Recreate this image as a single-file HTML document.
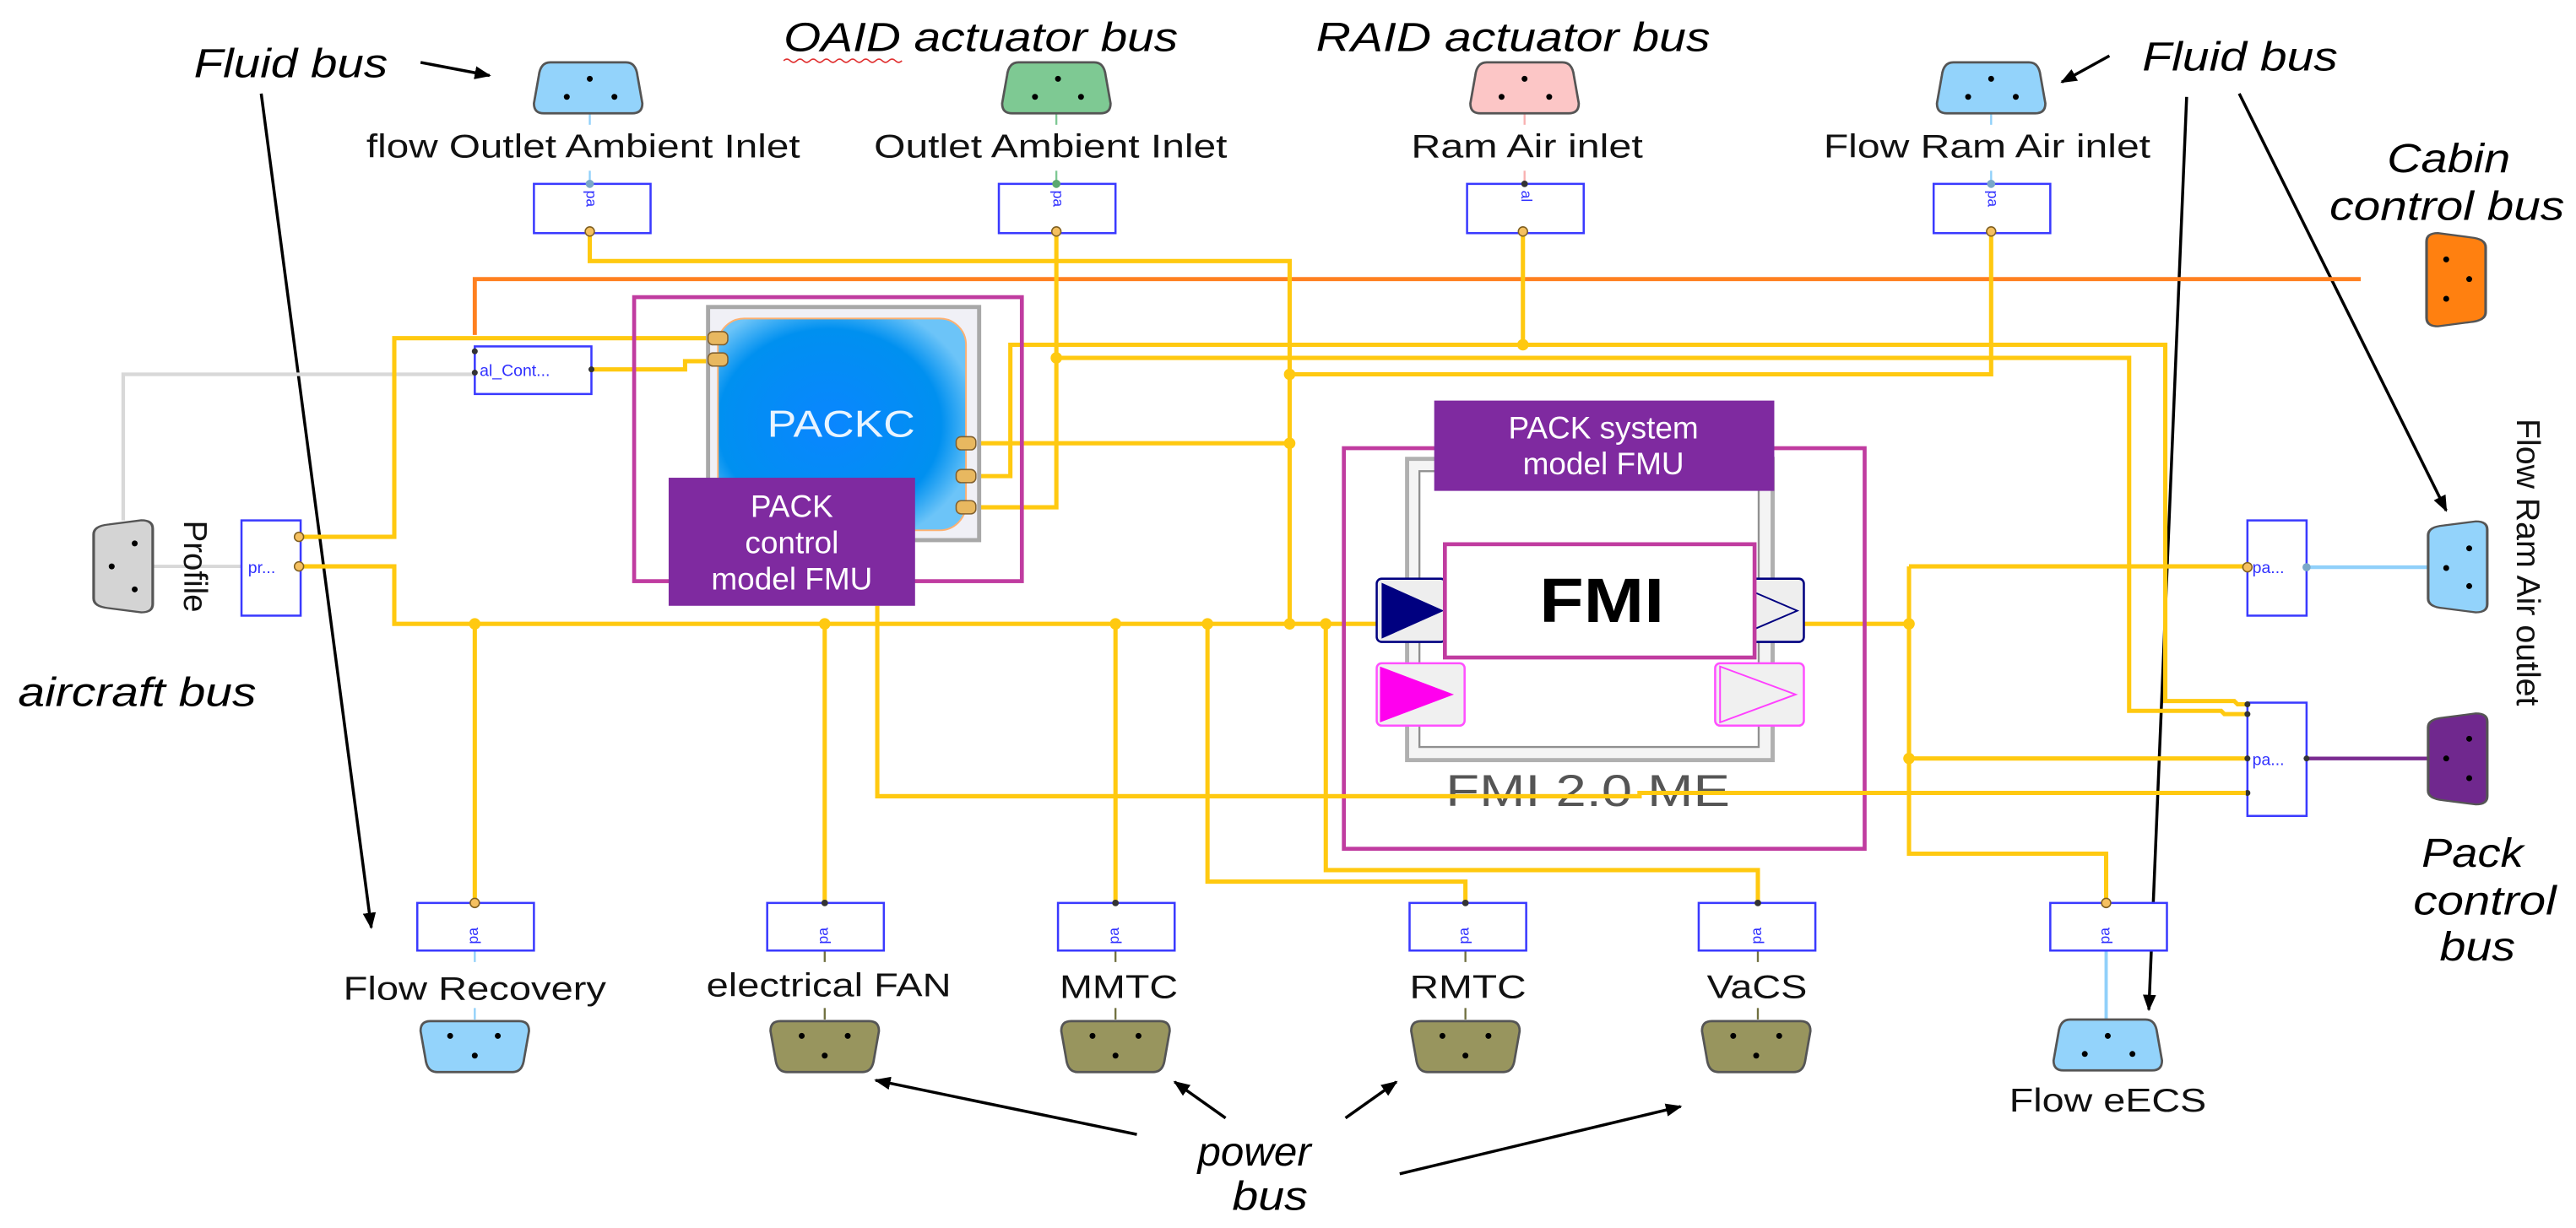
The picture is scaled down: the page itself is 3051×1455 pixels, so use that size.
<!DOCTYPE html>
<html><head><meta charset="utf-8"><style>
html,body{margin:0;padding:0;background:#fff;width:3051px;height:1455px;overflow:hidden}
svg{display:block}
text{font-family:"Liberation Sans",Arial,sans-serif}
.it{font-style:italic;font-size:25px;fill:#000}
.lb{font-size:20px;fill:#111}
.y{stroke:#ffc910;stroke-width:2.6;fill:none}
.bx{fill:#fff;stroke:#3a3aff;stroke-width:1.3}
.ar{stroke:#000;stroke-width:1.8;fill:none}
.po{fill:#f5c060;stroke:#806020;stroke-width:0.8}
.pd{fill:#333}
.sm{font-size:9px;fill:#3030ff}
</style></head><body>
<svg width="3051" height="1455" viewBox="0 0 1568 748" preserveAspectRatio="none" xmlns="http://www.w3.org/2000/svg">
<defs>
<marker id="ah" markerWidth="10" markerHeight="8" refX="9" refY="4" orient="auto" markerUnits="userSpaceOnUse"><path d="M0,0 L10,4 L0,8 Z" fill="#000"/></marker>
<radialGradient id="pk" cx="0.45" cy="0.5" r="0.6"><stop offset="0" stop-color="#0a86ff"/><stop offset="0.75" stop-color="#0090f0"/><stop offset="1" stop-color="#6cc4f8"/></radialGradient>
</defs>

<!-- annotations -->
<text class="it" x="118" y="47" textLength="118" lengthAdjust="spacingAndGlyphs">Fluid bus</text>
<line class="ar" x1="256" y1="38" x2="298" y2="46" marker-end="url(#ah)"/>
<line class="ar" x1="159" y1="57" x2="226" y2="565" marker-end="url(#ah)"/>
<text class="it" x="477" y="31" textLength="240" lengthAdjust="spacingAndGlyphs">OAID actuator bus</text>
<path d="M477,37 q2,-2 4,0 t4,0 t4,0 t4,0 t4,0 t4,0 t4,0 t4,0 t4,0 t4,0 t4,0 t4,0 t4,0 t4,0 t4,0 t4,0 t4,0 t4,0" stroke="#e03030" stroke-width="0.8" fill="none"/>
<text class="it" x="801" y="31" textLength="240" lengthAdjust="spacingAndGlyphs">RAID actuator bus</text>
<text class="it" x="1304" y="43" textLength="119" lengthAdjust="spacingAndGlyphs">Fluid bus</text>
<line class="ar" x1="1284" y1="34" x2="1255" y2="50" marker-end="url(#ah)"/>
<line class="ar" x1="1331" y1="59" x2="1308" y2="615" marker-end="url(#ah)"/>
<line class="ar" x1="1363" y1="57" x2="1489" y2="311" marker-end="url(#ah)"/>
<text class="it" x="1453" y="105" textLength="75" lengthAdjust="spacingAndGlyphs">Cabin</text>
<text class="it" x="1418" y="134" textLength="143" lengthAdjust="spacingAndGlyphs">control bus</text>
<text class="it" x="11" y="430" textLength="145" lengthAdjust="spacingAndGlyphs">aircraft bus</text>
<text class="it" x="729" y="710" textLength="69" lengthAdjust="spacingAndGlyphs">power</text>
<text class="it" x="750" y="737" textLength="46" lengthAdjust="spacingAndGlyphs">bus</text>
<text class="it" x="1474" y="528" textLength="62" lengthAdjust="spacingAndGlyphs">Pack</text>
<text class="it" x="1469" y="557" textLength="87" lengthAdjust="spacingAndGlyphs">control</text>
<text class="it" x="1485" y="585" textLength="46" lengthAdjust="spacingAndGlyphs">bus</text>
<line class="ar" x1="692" y1="691" x2="533" y2="658" marker-end="url(#ah)"/>
<line class="ar" x1="746" y1="681" x2="715" y2="659" marker-end="url(#ah)"/>
<line class="ar" x1="819" y1="681" x2="850" y2="659" marker-end="url(#ah)"/>
<line class="ar" x1="852" y1="715" x2="1023" y2="674" marker-end="url(#ah)"/>

<!-- orange cabin bus line -->
<polyline points="289,204 289,170 1437,170" stroke="#ff8020" stroke-width="2.5" fill="none"/>
<!-- gray aircraft line -->
<polyline points="75,317 75,228 289,228" stroke="#d8d8d8" stroke-width="2.2" fill="none"/>
<line x1="93" y1="345" x2="147" y2="345" stroke="#d8d8d8" stroke-width="2"/>

<!-- yellow wires -->
<polyline class="y" points="359,141 359,159 785,159 785,380"/>
<polyline class="y" points="182,327 240,327 240,206 438,206"/>
<polyline class="y" points="360,225 417,225 417,220 438,220"/>
<polyline class="y" points="182,345 240,345 240,380 838,380"/>
<polyline class="y" points="588,309 643,309 643,141"/>
<polyline class="y" points="588,290 615,290 615,210 1318,210 1318,427 1360,427 1362,429 1367,429"/>
<polyline class="y" points="643,218 1296,218 1296,433 1352,433 1354,435 1367,435"/>
<polyline class="y" points="1212,141 1212,228 785,228"/>
<polyline class="y" points="588,270 785,270"/>
<polyline class="y" points="927,141 927,210"/>
<polyline class="y" points="289,380 289,550"/>
<polyline class="y" points="502,380 502,550"/>
<polyline class="y" points="679,380 679,550"/>
<polyline class="y" points="735,380 735,537 892,537 892,550"/>
<polyline class="y" points="807,380 807,530 1070,530 1070,550"/>
<polyline class="y" points="534,369 534,485 998,485 998,483 1367,483"/>
<polyline class="y" points="1098,380 1162,380"/>
<polyline class="y" points="1162,345 1367,345"/>
<polyline class="y" points="1162,345 1162,520 1282,520 1282,550"/>
<polyline class="y" points="1162,462 1367,462"/>
<g fill="#ffc910">
<circle cx="289" cy="380" r="3.5"/><circle cx="502" cy="380" r="3.5"/><circle cx="679" cy="380" r="3.5"/><circle cx="735" cy="380" r="3.5"/><circle cx="785" cy="380" r="3.5"/><circle cx="807" cy="380" r="3.5"/>
<circle cx="785" cy="228" r="3.5"/><circle cx="785" cy="270" r="3.5"/><circle cx="643" cy="218" r="3.5"/><circle cx="927" cy="210" r="3.5"/>
<circle cx="1162" cy="380" r="3.5"/><circle cx="1162" cy="462" r="3.5"/>
</g>
<!-- light blue / purple / stub lines -->
<line x1="1404" y1="345.5" x2="1478" y2="345.5" stroke="#90d0fa" stroke-width="2.2"/>
<line x1="1404" y1="462" x2="1478" y2="462" stroke="#7a2a90" stroke-width="2.2"/>
<line x1="1282" y1="579" x2="1282" y2="622" stroke="#90d0fa" stroke-width="2"/>
<g stroke-width="1.2">
<line x1="359" y1="69" x2="359" y2="76" stroke="#90d0fa"/><line x1="359" y1="104" x2="359" y2="112" stroke="#90d0fa"/>
<line x1="643" y1="69" x2="643" y2="76" stroke="#7dc893"/><line x1="643" y1="104" x2="643" y2="112" stroke="#7dc893"/>
<line x1="928" y1="69" x2="928" y2="76" stroke="#f8b0b0"/><line x1="928" y1="104" x2="928" y2="112" stroke="#f8b0b0"/>
<line x1="1212" y1="69" x2="1212" y2="76" stroke="#90d0fa"/><line x1="1212" y1="104" x2="1212" y2="112" stroke="#90d0fa"/>
<line x1="289" y1="579" x2="289" y2="586" stroke="#90d0fa"/><line x1="289" y1="614" x2="289" y2="621" stroke="#90d0fa"/>
<line x1="502" y1="579" x2="502" y2="586" stroke="#707040"/><line x1="502" y1="614" x2="502" y2="621" stroke="#707040"/>
<line x1="679" y1="579" x2="679" y2="586" stroke="#707040"/><line x1="679" y1="614" x2="679" y2="621" stroke="#707040"/>
<line x1="892" y1="579" x2="892" y2="586" stroke="#707040"/><line x1="892" y1="614" x2="892" y2="621" stroke="#707040"/>
<line x1="1070" y1="579" x2="1070" y2="586" stroke="#707040"/><line x1="1070" y1="614" x2="1070" y2="621" stroke="#707040"/>
</g>

<!-- connectors -->
<g stroke="#555" stroke-width="1.4">
<path transform="translate(325,38)" fill="#93d3fb" d="M10,0 H56 Q62,0 63,8 L66,25 Q66,31 60,31 H6 Q0,31 0,25 L3,8 Q4,0 10,0 Z"/>
<path transform="translate(610,38)" fill="#7ec993" d="M10,0 H56 Q62,0 63,8 L66,25 Q66,31 60,31 H6 Q0,31 0,25 L3,8 Q4,0 10,0 Z"/>
<path transform="translate(895,38)" fill="#fcc6c6" d="M10,0 H56 Q62,0 63,8 L66,25 Q66,31 60,31 H6 Q0,31 0,25 L3,8 Q4,0 10,0 Z"/>
<path transform="translate(1179,38)" fill="#93d3fb" d="M10,0 H56 Q62,0 63,8 L66,25 Q66,31 60,31 H6 Q0,31 0,25 L3,8 Q4,0 10,0 Z"/>
<path transform="translate(1250,621)" fill="#93d3fb" d="M10,0 H56 Q62,0 63,8 L66,25 Q66,31 60,31 H6 Q0,31 0,25 L3,8 Q4,0 10,0 Z"/>
<path transform="translate(256,653) scale(1,-1)" fill="#93d3fb" d="M10,0 H56 Q62,0 63,8 L66,25 Q66,31 60,31 H6 Q0,31 0,25 L3,8 Q4,0 10,0 Z"/>
<path transform="translate(469,653) scale(1,-1)" fill="#98955e" d="M10,0 H56 Q62,0 63,8 L66,25 Q66,31 60,31 H6 Q0,31 0,25 L3,8 Q4,0 10,0 Z"/>
<path transform="translate(646,653) scale(1,-1)" fill="#98955e" d="M10,0 H56 Q62,0 63,8 L66,25 Q66,31 60,31 H6 Q0,31 0,25 L3,8 Q4,0 10,0 Z"/>
<path transform="translate(859,653) scale(1,-1)" fill="#98955e" d="M10,0 H56 Q62,0 63,8 L66,25 Q66,31 60,31 H6 Q0,31 0,25 L3,8 Q4,0 10,0 Z"/>
<path transform="translate(1036,653) scale(1,-1)" fill="#98955e" d="M10,0 H56 Q62,0 63,8 L66,25 Q66,31 60,31 H6 Q0,31 0,25 L3,8 Q4,0 10,0 Z"/>
<path transform="translate(57,373) rotate(-90) scale(0.85,1.16)" fill="#d4d4d4" d="M10,0 H56 Q62,0 63,8 L66,25 Q66,31 60,31 H6 Q0,31 0,25 L3,8 Q4,0 10,0 Z"/>
<path transform="translate(1513,142) rotate(90) scale(0.86,1.16)" fill="#ff8010" d="M10,0 H56 Q62,0 63,8 L66,25 Q66,31 60,31 H6 Q0,31 0,25 L3,8 Q4,0 10,0 Z"/>
<path transform="translate(1478,373) rotate(-90) scale(0.84,1.16)" fill="#93d3fb" d="M10,0 H56 Q62,0 63,8 L66,25 Q66,31 60,31 H6 Q0,31 0,25 L3,8 Q4,0 10,0 Z"/>
<path transform="translate(1478,490) rotate(-90) scale(0.84,1.16)" fill="#70288e" d="M10,0 H56 Q62,0 63,8 L66,25 Q66,31 60,31 H6 Q0,31 0,25 L3,8 Q4,0 10,0 Z"/>
</g>
<g fill="#000">
<circle cx="359" cy="48" r="1.8"/><circle cx="345" cy="59" r="1.8"/><circle cx="374" cy="59" r="1.8"/>
<circle cx="644" cy="48" r="1.8"/><circle cx="630" cy="59" r="1.8"/><circle cx="658" cy="59" r="1.8"/>
<circle cx="928" cy="48" r="1.8"/><circle cx="914" cy="59" r="1.8"/><circle cx="943" cy="59" r="1.8"/>
<circle cx="1212" cy="48" r="1.8"/><circle cx="1198" cy="59" r="1.8"/><circle cx="1227" cy="59" r="1.8"/>
<circle cx="1283" cy="631" r="1.8"/><circle cx="1269" cy="642" r="1.8"/><circle cx="1298" cy="642" r="1.8"/>
<circle cx="274" cy="631" r="1.8"/><circle cx="303" cy="631" r="1.8"/><circle cx="289" cy="643" r="1.8"/>
<circle cx="488" cy="631" r="1.8"/><circle cx="516" cy="631" r="1.8"/><circle cx="502" cy="643" r="1.8"/>
<circle cx="665" cy="631" r="1.8"/><circle cx="693" cy="631" r="1.8"/><circle cx="679" cy="643" r="1.8"/>
<circle cx="878" cy="631" r="1.8"/><circle cx="906" cy="631" r="1.8"/><circle cx="892" cy="643" r="1.8"/>
<circle cx="1055" cy="631" r="1.8"/><circle cx="1083" cy="631" r="1.8"/><circle cx="1069" cy="643" r="1.8"/>
<circle cx="82" cy="331" r="1.8"/><circle cx="68" cy="345" r="1.8"/><circle cx="82" cy="359" r="1.8"/>
<circle cx="1489" cy="158" r="1.8"/><circle cx="1503" cy="170" r="1.8"/><circle cx="1489" cy="182" r="1.8"/>
<circle cx="1503" cy="334" r="1.8"/><circle cx="1489" cy="346" r="1.8"/><circle cx="1503" cy="357" r="1.8"/>
<circle cx="1503" cy="450" r="1.8"/><circle cx="1489" cy="462" r="1.8"/><circle cx="1503" cy="474" r="1.8"/>
</g>

<!-- labels -->
<text class="lb" x="223" y="96" textLength="264" lengthAdjust="spacingAndGlyphs">flow Outlet Ambient Inlet</text>
<text class="lb" x="532" y="96" textLength="215" lengthAdjust="spacingAndGlyphs">Outlet Ambient Inlet</text>
<text class="lb" x="859" y="96" textLength="141" lengthAdjust="spacingAndGlyphs">Ram Air inlet</text>
<text class="lb" x="1110" y="96" textLength="199" lengthAdjust="spacingAndGlyphs">Flow Ram Air inlet</text>
<text class="lb" x="209" y="609" textLength="160" lengthAdjust="spacingAndGlyphs">Flow Recovery</text>
<text class="lb" x="430" y="607" textLength="149" lengthAdjust="spacingAndGlyphs">electrical FAN</text>
<text class="lb" x="645" y="608" textLength="72" lengthAdjust="spacingAndGlyphs">MMTC</text>
<text class="lb" x="858" y="608" textLength="71" lengthAdjust="spacingAndGlyphs">RMTC</text>
<text class="lb" x="1039" y="608" textLength="61" lengthAdjust="spacingAndGlyphs">VaCS</text>
<text class="lb" x="1223" y="677" textLength="120" lengthAdjust="spacingAndGlyphs">Flow eECS</text>
<text class="lb" transform="translate(112,317) rotate(90)" textLength="56" lengthAdjust="spacingAndGlyphs">Profile</text>
<text class="lb" transform="translate(1532,255) rotate(90)" textLength="175" lengthAdjust="spacingAndGlyphs">Flow Ram Air outlet</text>

<!-- small bus boxes -->
<g>
<rect class="bx" x="325" y="112" width="71" height="30"/><rect class="bx" x="608" y="112" width="71" height="30"/>
<rect class="bx" x="893" y="112" width="71" height="30"/><rect class="bx" x="1177" y="112" width="71" height="30"/>
<rect class="bx" x="254" y="550" width="71" height="29"/><rect class="bx" x="467" y="550" width="71" height="29"/>
<rect class="bx" x="644" y="550" width="71" height="29"/><rect class="bx" x="858" y="550" width="71" height="29"/>
<rect class="bx" x="1034" y="550" width="71" height="29"/><rect class="bx" x="1248" y="550" width="71" height="29"/>
<rect class="bx" x="147" y="317" width="36" height="58"/>
<rect class="bx" x="289" y="211" width="71" height="29"/>
<rect class="bx" x="1368" y="317" width="36" height="58"/>
<rect class="bx" x="1368" y="428" width="36" height="69"/>
</g>
<g class="sm">
<text transform="translate(357,116) rotate(90)">pa</text><text transform="translate(641,116) rotate(90)">pa</text>
<text transform="translate(926,116) rotate(90)">al</text><text transform="translate(1210,116) rotate(90)">pa</text>
<text transform="translate(291,575) rotate(-90)">pa</text><text transform="translate(504,575) rotate(-90)">pa</text>
<text transform="translate(681,575) rotate(-90)">pa</text><text transform="translate(894,575) rotate(-90)">pa</text>
<text transform="translate(1072,575) rotate(-90)">pa</text><text transform="translate(1284,575) rotate(-90)">pa</text>
<text x="151" y="349" font-size="10">pr...</text>
<text x="292" y="229" font-size="10">al_Cont...</text>
<text x="1371" y="349" font-size="10">pa...</text>
<text x="1371" y="466" font-size="10">pa...</text>
</g>
<g fill="#333">
<circle cx="289" cy="214" r="1.8"/><circle cx="289" cy="227" r="1.8"/><circle cx="360" cy="225" r="1.8"/>
<circle cx="502" cy="550" r="2"/><circle cx="679" cy="550" r="2"/><circle cx="892" cy="550" r="2"/><circle cx="1070" cy="550" r="2"/>
<circle cx="1368" cy="429" r="1.8"/><circle cx="1368" cy="435" r="1.8"/><circle cx="1368" cy="462" r="1.8"/><circle cx="1368" cy="483" r="1.8"/><circle cx="1404" cy="462" r="1.8"/>
<circle cx="928" cy="112" r="2"/>
</g>
<g class="po">
<circle cx="359" cy="141" r="2.8"/><circle cx="643" cy="141" r="2.8"/><circle cx="927" cy="141" r="2.8"/><circle cx="1212" cy="141" r="2.8"/>
<circle cx="289" cy="550" r="2.8"/><circle cx="1282" cy="550" r="2.8"/>
<circle cx="182" cy="327" r="2.8"/><circle cx="182" cy="345" r="2.8"/><circle cx="1368" cy="345.5" r="2.8"/>
</g>
<circle cx="359" cy="112" r="2.5" fill="#7aa8c8"/><circle cx="643" cy="112" r="2.5" fill="#5aa870"/><circle cx="1212" cy="112" r="2.5" fill="#7aa8c8"/>
<circle cx="1404" cy="345.5" r="2.5" fill="#7aa8c8"/>

<!-- PACK control FMU block -->
<rect x="386" y="181" width="236" height="173" fill="none" stroke="#c03ca0" stroke-width="2.4"/>
<rect x="431" y="187" width="165" height="142" fill="#f0f0f6" stroke="#a8a8a8" stroke-width="2.5"/>
<rect x="437" y="194" width="151" height="129" rx="16" fill="url(#pk)" stroke="#ffb070" stroke-width="1"/>
<text x="467" y="266" font-size="23" fill="#e8f4ff" textLength="90" lengthAdjust="spacingAndGlyphs">PACKC</text>
<g fill="#e8b860" stroke="#806030" stroke-width="0.8">
<rect x="431" y="202" width="12" height="8" rx="3"/><rect x="431" y="215" width="12" height="8" rx="3"/>
<rect x="582" y="266" width="12" height="8" rx="3"/><rect x="582" y="286" width="12" height="8" rx="3"/><rect x="582" y="305" width="12" height="8" rx="3"/>
</g>
<rect x="407" y="291" width="150" height="78" fill="#7f2aa0"/>
<g font-size="19" fill="#fff" text-anchor="middle">
<text x="482" y="315">PACK</text><text x="482" y="337">control</text><text x="482" y="359">model FMU</text>
</g>

<!-- PACK system FMU block -->
<rect x="818" y="273" width="317" height="244" fill="none" stroke="#c03ca0" stroke-width="2.4"/>
<rect x="856.5" y="279.5" width="222.5" height="183.5" fill="#f4f4f4" stroke="#b0b0b0" stroke-width="2.5"/>
<rect x="864" y="287" width="206.5" height="168" fill="#fff" stroke="#909090" stroke-width="1.2"/>
<text x="880" y="491" font-size="27" fill="#555" textLength="173" lengthAdjust="spacingAndGlyphs">FMI 2.0 ME</text>
<polyline class="y" points="534,485 998,485 998,483 1367,483"/>
<rect x="838" y="352.5" width="42" height="38.5" rx="3" fill="#eee" stroke="#000080" stroke-width="1.3"/>
<path d="M841,355 L879,372 L841,389 Z" fill="#000080"/>
<rect x="1066" y="352.5" width="32" height="38.5" rx="3" fill="#eee" stroke="#000080" stroke-width="1.3"/>
<path d="M1066,360 L1094,372 L1066,384" fill="none" stroke="#000080" stroke-width="1"/>
<rect x="838" y="404" width="53.5" height="38" rx="3" fill="#f0f0f0" stroke="#ff50ff" stroke-width="1.3"/>
<path d="M840,406 L885,423 L840,440 Z" fill="#ff00ee"/>
<rect x="1044" y="404" width="54" height="38" rx="3" fill="#f0f0f0" stroke="#ff50ff" stroke-width="1.3"/>
<path d="M1047,406 L1093,423 L1047,440 Z" fill="none" stroke="#ff40ff" stroke-width="1"/>
<rect x="879.5" y="331.5" width="188.5" height="69" fill="#fff" stroke="#c03ca0" stroke-width="2.4"/>
<text x="975" y="379" font-size="38" font-weight="bold" fill="#000" text-anchor="middle" textLength="76" lengthAdjust="spacingAndGlyphs">FMI</text>
<rect x="873" y="244" width="207" height="55" fill="#7f2aa0"/>
<g font-size="19" fill="#fff" text-anchor="middle">
<text x="976" y="267">PACK system</text><text x="976" y="289">model FMU</text>
</g>
</svg>
</body></html>
